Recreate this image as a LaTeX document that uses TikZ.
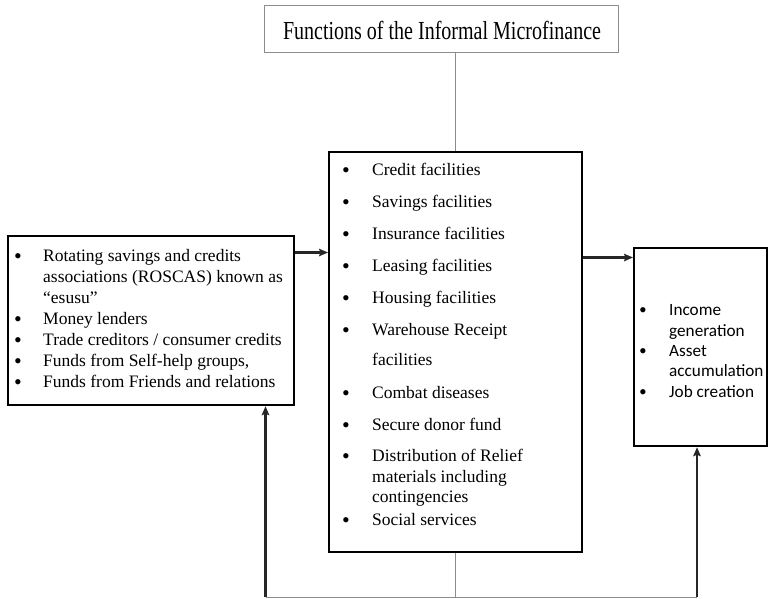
\documentclass[tikz,border=0pt]{standalone}
\usepackage{fontspec}
\setmainfont{Liberation Serif}
\newfontfamily\carlitofont{Carlito}
\usetikzlibrary{arrows.meta}
\begin{document}
\begin{tikzpicture}[x=1pt,y=-1pt,
  box/.style={draw=black, line width=2.2pt, inner sep=0pt, anchor=north west},
  titlebox/.style={draw=black!45, line width=0.8pt, inner sep=0pt, anchor=north west},
  itm/.style={anchor=base west, inner sep=0pt, align=left, font=\fontsize{17.5}{21}\selectfont},
  itmm/.style={anchor=base west, inner sep=0pt, align=left, font=\fontsize{17.5}{20.7}\selectfont},
  itmr/.style={anchor=base west, inner sep=0pt, align=left, font=\carlitofont\fontsize{17.2}{20.3}\selectfont},
  bul/.style={anchor=base, inner sep=0pt, font=\fontsize{22}{22}\selectfont, yshift=-2pt},
  thin/.style={draw=black!45, line width=0.8pt},
  conn/.style={draw=black!85, line width=2.2pt},
  arr/.style={conn, -{Stealth[length=9pt, width=7.5pt, inset=1.5pt]}}
]
\useasboundingbox (0,0) rectangle (768,598);

% title
\node[titlebox, minimum width=354pt, minimum height=46.5pt] (T) at (264,5) {};
\node[anchor=base, inner sep=0pt] (Tt) at (442,39)
  {\scalebox{0.77}[1]{\fontsize{26}{26}\selectfont Functions of the Informal Microfinance}};

% boxes
\node[box, minimum width=286pt, minimum height=169pt] (L) at (7,235) {};
\node[box, minimum width=253pt, minimum height=400pt] (M) at (328,151) {};
\node[box, minimum width=133pt, minimum height=198pt] (R) at (633,247) {};

% left box items (base anchor = last line)
\node[bul] (lb1) at (18,261) {•};
\node[itm] (l1) at (43,303) {Rotating savings and credits\\associations (ROSCAS) known as\\“esusu”};
\node[bul] (lb2) at (18,324) {•};
\node[itm] (l2) at (43,324) {Money lenders};
\node[bul] (lb3) at (18,345) {•};
\node[itm] (l3) at (43,345) {Trade creditors / consumer credits};
\node[bul] (lb4) at (18,366) {•};
\node[itm] (l4) at (43,366) {Funds from Self-help groups,};
\node[bul] (lb5) at (18,387) {•};
\node[itm] (l5) at (43,387) {Funds from Friends and relations};

% middle box items
\node[bul] (mb1) at (346,175.7) {•};
\node[itmm] (m1) at (372,175.7) {Credit facilities};
\node[bul] (mb2) at (346,207.7) {•};
\node[itmm] (m2) at (372,207.7) {Savings facilities};
\node[bul] (mb3) at (346,239.3) {•};
\node[itmm] (m3) at (372,239.3) {Insurance facilities};
\node[bul] (mb4) at (346,271) {•};
\node[itmm] (m4) at (372,271) {Leasing facilities};
\node[bul] (mb5) at (346,303) {•};
\node[itmm] (m5) at (372,303) {Housing facilities};
\node[bul] (mb6) at (346,335) {•};
\node[itmm] (m6) at (372,335) {Warehouse Receipt};
\node[itmm] (m6b) at (372,365.7) {facilities};
\node[bul] (mb7) at (346,398) {•};
\node[itmm] (m7) at (372,398) {Combat diseases};
\node[bul] (mb8) at (346,430) {•};
\node[itmm] (m8) at (372,430) {Secure donor fund};
\node[bul] (mb9) at (346,461.5) {•};
\node[itmm] (m9) at (372,502.9) {Distribution of Relief\\materials including\\contingencies};
\node[bul] (mb10) at (346,525) {•};
\node[itmm] (m10) at (372,525) {Social services};

% right box items
\node[bul] (rb1) at (643,315.7) {•};
\node[itmr] (r1) at (669,336) {Income\\generation};
\node[bul] (rb2) at (643,356.3) {•};
\node[itmr] (r2) at (669,376.6) {Asset\\accumulation};
\node[bul] (rb3) at (643,397) {•};
\node[itmr] (r3) at (669,397) {Job creation};

% connectors
\draw[thin] (M.north) -- (M.north |- T.south);
\coordinate (a1) at (0,252.5);
\coordinate (a2) at (0,257.5);
\draw[arr] (L.east |- a1) -- (M.west |- a1);
\draw[arr] (M.east |- a2) -- (R.west |- a2);

\coordinate (b1) at (265.5,597);
\coordinate (b2) at (697,597);
\draw[thin] (M.south) -- (M.south |- b1);
\draw[thin] (b1) -- (b2);
\draw[arr] (b1) -- (L.south -| b1);
\draw[arr] (b2) -- (R.south -| b2);
\end{tikzpicture}
\end{document}
